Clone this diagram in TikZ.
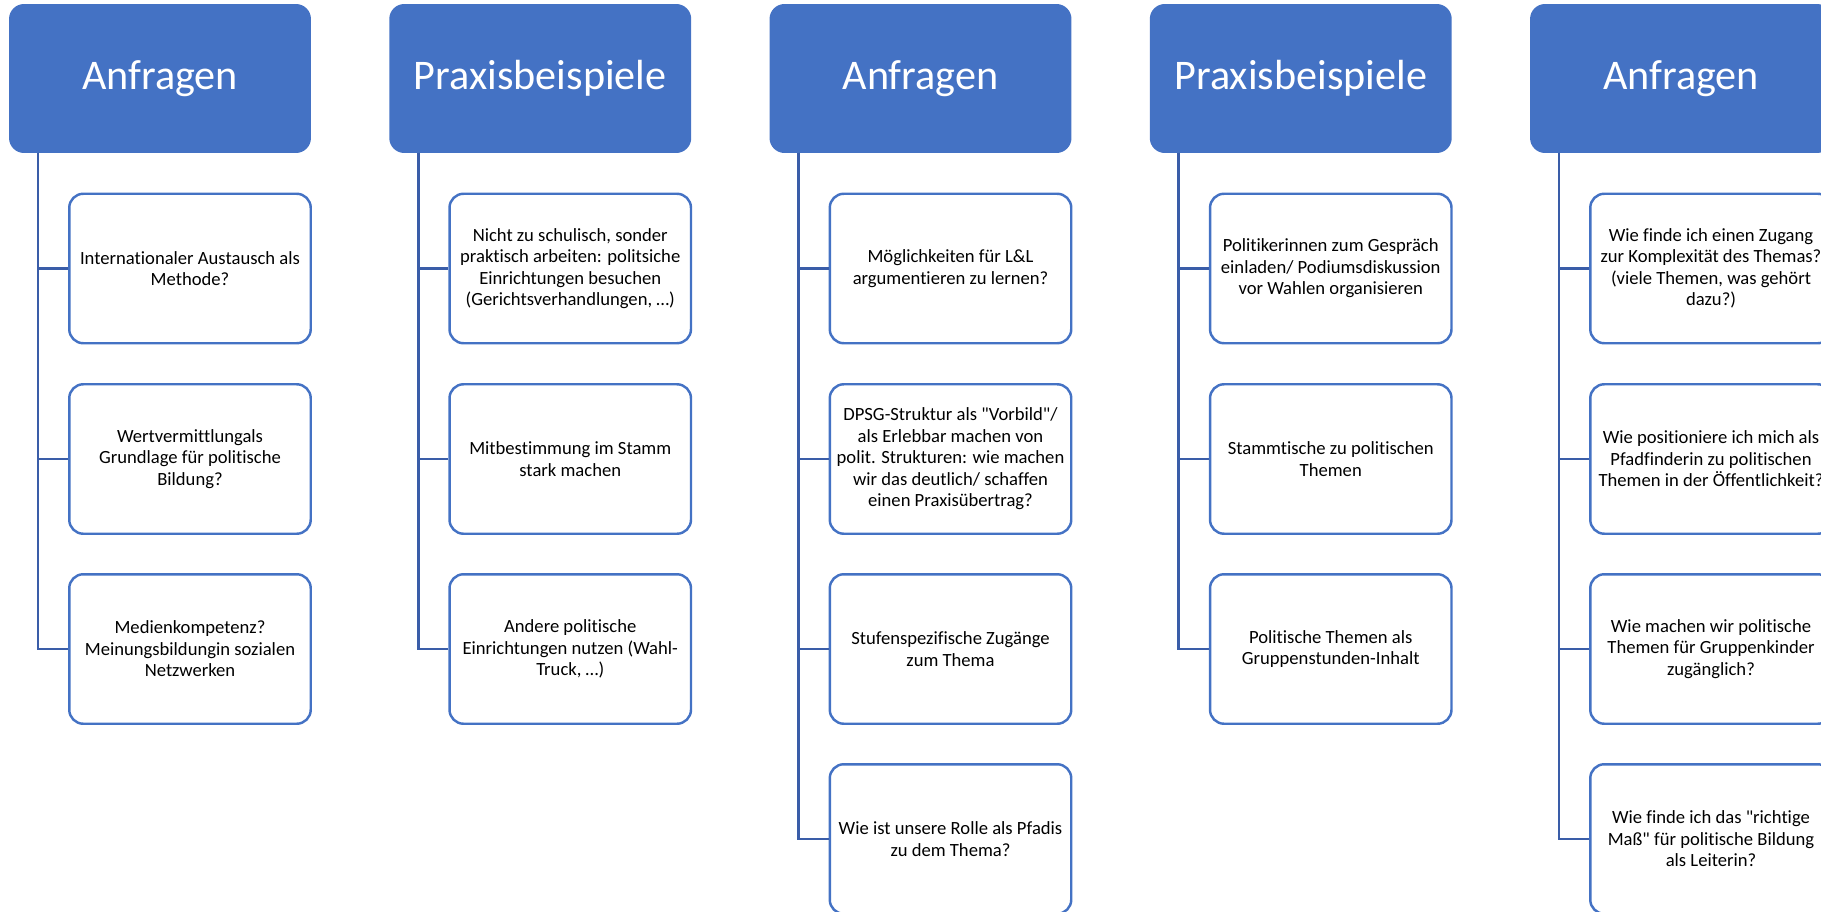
\documentclass[tikz,border=0pt]{standalone}
\usepackage{fontspec}
\setmainfont{Carlito}[Ligatures={TeXOff,NoCommon}]
\usepackage{tikz}
\usetikzlibrary{positioning}
\definecolor{headblue}{HTML}{4472C4}
\definecolor{treeblue}{HTML}{3A5DA8}

\begin{document}
\begin{tikzpicture}[x=0.02cm, y=-0.02cm,
				head/.style = {rectangle, rounded corners=0.3cm,
					fill=headblue, text=white, inner sep=0pt,
					minimum width=6.04cm, minimum height=2.98cm,
					font=\fontsize{24}{28}\selectfont},
				item/.style = {rectangle, rounded corners=0.28cm,
					draw=headblue, line width=1.4pt, fill=white,
					inner sep=0pt, align=center,
					minimum width=4.83cm, minimum height=2.99cm,
					font=\fontsize{10.6}{12.2}\selectfont},
				tree/.style = {draw=treeblue, line width=1.5pt}]

				\useasboundingbox (0,0) rectangle (1821,912);
				\clip (0,0) rectangle (1821,912);

				% Column 1
				\node[head] (h1) at (160,78.5) {Anfragen};
				\coordinate (t1) at (38,153);
				\node[item] (a1) at (190,268.5) {Internationaler Austausch als\\Methode?};
				\node[item] (a2) at (190,459) {Wertvermittlungals\\Grundlage für politische\\Bildung?};
				\node[item] (a3) at (190,649) {Medienkompetenz?\\Meinungsbildungin sozialen\\Netzwerken};
				\draw[tree] (t1) |- (a3.west);
				\draw[tree] (t1) |- (a1.west);
				\draw[tree] (t1) |- (a2.west);

				% Column 2
				\node[head] (h2) at (540.25,78.5) {Praxisbeispiele};
				\coordinate (t2) at (418.25,153);
				\node[item] (b1) at (570.25,268.5) {Nicht zu schulisch, sonder\\praktisch arbeiten: politsiche\\Einrichtungen besuchen\\(Gerichtsverhandlungen, …)};
				\node[item] (b2) at (570.25,459) {Mitbestimmung im Stamm\\stark machen};
				\node[item] (b3) at (570.25,649) {Andere politische\\Einrichtungen nutzen (Wahl-\\Truck, …)};
				\draw[tree] (t2) |- (b3.west);
				\draw[tree] (t2) |- (b1.west);
				\draw[tree] (t2) |- (b2.west);

				% Column 3
				\node[head] (h3) at (920.5,78.5) {Anfragen};
				\coordinate (t3) at (798.5,153);
				\node[item] (c1) at (950.5,268.5) {Möglichkeiten für L\&L\\argumentieren zu lernen?};
				\node[item] (c2) at (950.5,459) {DPSG-Struktur als "Vorbild"/\\als Erlebbar machen von\\polit. Strukturen: wie machen\\wir das deutlich/ schaffen\\einen Praxisübertrag?};
				\node[item] (c3) at (950.5,649) {Stufenspezifische Zugänge\\zum Thema};
				\node[item] (c4) at (950.5,839) {Wie ist unsere Rolle als Pfadis\\zu dem Thema?};
				\draw[tree] (t3) |- (c4.west);
				\draw[tree] (t3) |- (c1.west);
				\draw[tree] (t3) |- (c2.west);
				\draw[tree] (t3) |- (c3.west);

				% Column 4
				\node[head] (h4) at (1300.75,78.5) {Praxisbeispiele};
				\coordinate (t4) at (1178.75,153);
				\node[item] (d1) at (1330.75,268.5) {Politikerinnen zum Gespräch\\einladen/ Podiumsdiskussion\\vor Wahlen organisieren};
				\node[item] (d2) at (1330.75,459) {Stammtische zu politischen\\Themen};
				\node[item] (d3) at (1330.75,649) {Politische Themen als\\Gruppenstunden-Inhalt};
				\draw[tree] (t4) |- (d3.west);
				\draw[tree] (t4) |- (d1.west);
				\draw[tree] (t4) |- (d2.west);

				% Column 5
				\node[head] (h5) at (1681,78.5) {Anfragen};
				\coordinate (t5) at (1559,153);
				\node[item] (e1) at (1711,268.5) {Wie finde ich einen Zugang\\zur Komplexität des Themas?\\(viele Themen, was gehört\\dazu?)};
				\node[item] (e2) at (1711,459) {Wie positioniere ich mich als\\Pfadfinderin zu politischen\\Themen in der Öffentlichkeit?};
				\node[item] (e3) at (1711,649) {Wie machen wir politische\\Themen für Gruppenkinder\\zugänglich?};
				\node[item] (e4) at (1711,839) {Wie finde ich das "richtige\\Maß" für politische Bildung\\als Leiterin?};
				\draw[tree] (t5) |- (e4.west);
				\draw[tree] (t5) |- (e1.west);
				\draw[tree] (t5) |- (e2.west);
				\draw[tree] (t5) |- (e3.west);

		\end{tikzpicture}
\end{document}
